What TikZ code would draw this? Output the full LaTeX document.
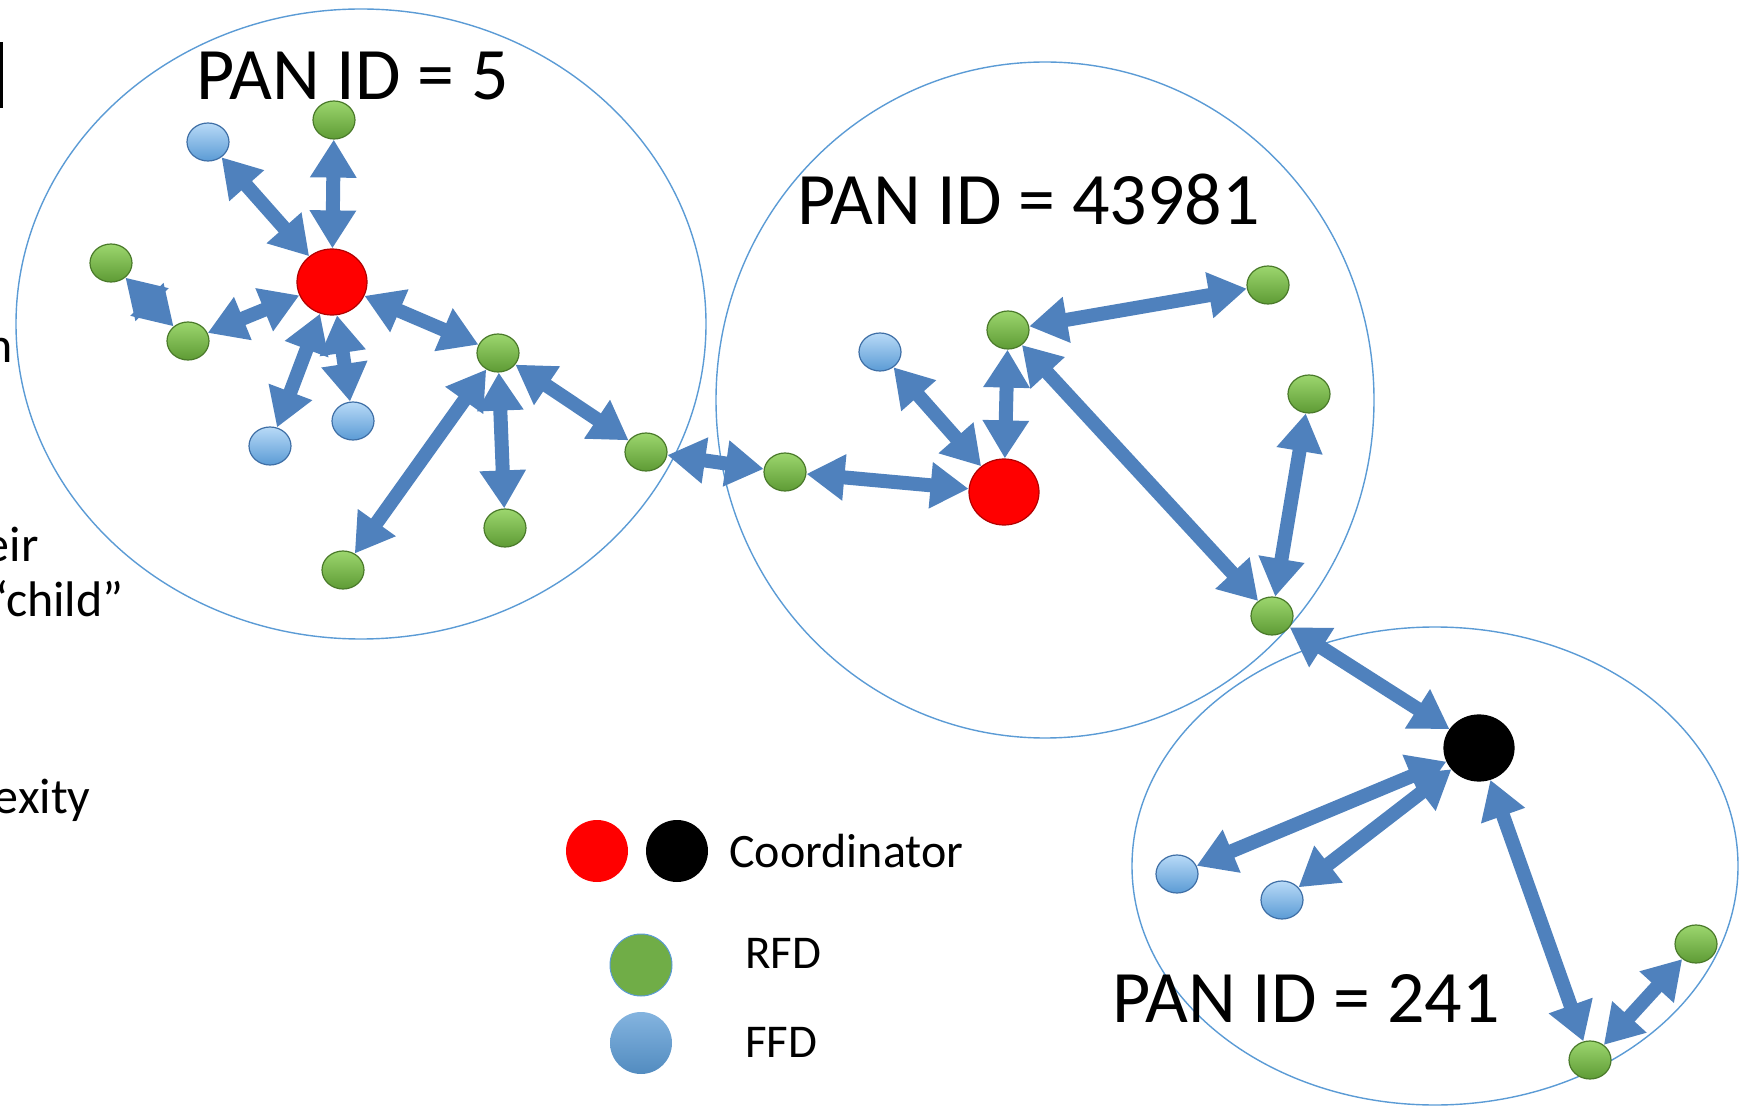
\documentclass[tikz,border=0pt]{standalone}
\usepackage{fontspec}
\setmainfont{Carlito}
\usepackage{tikz}
\usetikzlibrary{arrows.meta, shapes.geometric}
\definecolor{linkblue}{HTML}{4F81BD}
\definecolor{panline}{HTML}{5B9BD5}
\definecolor{rfdtop}{HTML}{9CD66E}
\definecolor{rfdbot}{HTML}{5E9B35}
\definecolor{rfdedge}{HTML}{4A7A2A}
\definecolor{ffdtop}{HTML}{B8DAF7}
\definecolor{ffdbot}{HTML}{5B9BD5}
\definecolor{ffdedge}{HTML}{3F6FA6}
\definecolor{keygreen}{HTML}{70AD47}

\begin{document}
\begin{tikzpicture}[x=0.5pt, y=-0.5pt,
  rfd/.style={ellipse, inner sep=0pt, minimum width=21pt, minimum height=19pt, draw=rfdedge, line width=0.6pt, top color=rfdtop, bottom color=rfdbot},
  ffd/.style={ellipse, inner sep=0pt, minimum width=21pt, minimum height=19pt, draw=ffdedge, line width=0.6pt, top color=ffdtop, bottom color=ffdbot},
  coord/.style={ellipse, inner sep=0pt, minimum width=35pt, minimum height=33pt, draw=#1!70!black, line width=0.6pt, fill=#1},
  link/.style={draw=linkblue, line width=7pt, {Triangle[length=19pt,width=22pt]}-{Triangle[length=19pt,width=22pt]}},
  pan/.style={draw=panline, line width=0.7pt},
  panid/.style={anchor=base west, inner sep=0pt, font=\fontsize{37}{44}\selectfont},
  keydot/.style={circle, inner sep=0pt, minimum size=31pt},
  keytext/.style={anchor=base west, inner sep=0pt, font=\fontsize{#1}{28}\selectfont},
  slidetext/.style={anchor=base east, inner sep=0pt, font=\fontsize{25}{30}\selectfont}
]
  \useasboundingbox (0,0) rectangle (1740,1106);
  \clip (0,0) rectangle (1740,1106);

  \node[slidetext] (t1) at (13,363) {n};
  \node[slidetext] (t2) at (39,562) {eir};
  \node[slidetext] (t3) at (124,617) {“child”};
  \node[slidetext] (t4) at (91,813) {exity};
  \fill (0,42) rectangle (3,108);

  \draw[pan] (361,324) ellipse [x radius=345, y radius=315];
  \draw[pan] (1045,400) ellipse [x radius=329, y radius=338];
  \draw[pan] (1435,866) ellipse [x radius=303, y radius=239];

  \node[panid] (p1) at (196,100) {PAN ID = 5};
  \node[panid] (p2) at (797,225) {PAN ID = 43981};
  \node[panid] (p3) at (1112,1022) {PAN ID = 241};

  \node[coord=red] (c1) at (332,282) {};
  \node[coord=red] (c2) at (1004,492) {};
  \node[coord=black] (c3) at (1479,748) {};

  \node[rfd] (r1) at (334,120) {};
  \node[rfd] (r2) at (111,263) {};
  \node[rfd] (r3) at (188,341) {};
  \node[rfd] (r4) at (498,353) {};
  \node[rfd] (r5) at (646,452) {};
  \node[rfd] (r6) at (505,528) {};
  \node[rfd] (r7) at (343,570) {};
  \node[rfd] (r8) at (785,472) {};
  \node[rfd] (r9) at (1008,330) {};
  \node[rfd] (r10) at (1268,285) {};
  \node[rfd] (r11) at (1309,394) {};
  \node[rfd] (r12) at (1272,616) {};
  \node[rfd] (r13) at (1696,944) {};
  \node[rfd] (r14) at (1590,1060) {};

  \node[ffd] (f1) at (208,142) {};
  \node[ffd] (f2) at (270,446) {};
  \node[ffd] (f3) at (353,421) {};
  \node[ffd] (f4) at (880,352) {};
  \node[ffd] (f5) at (1177,874) {};
  \node[ffd] (f6) at (1282,900) {};

  \draw[link] (c1) -- (r1);
  \draw[link] (c1) -- (f1);
  \draw[link] (c1) -- (r3);
  \draw[link] (r2) -- (r3);
  \draw[link] (c1) -- (f2);
  \draw[link] (c1) -- (f3);
  \draw[link] (c1) -- (r4);
  \draw[link] (r4) -- (r5);
  \draw[link] (r4) -- (r6);
  \draw[link] (r4) -- (r7);
  \draw[link] (r5) -- (r8);
  \draw[link] (r8) -- (c2);
  \draw[link] (c2) -- (f4);
  \draw[link] (c2) -- (r9);
  \draw[link] (r9) -- (r10);
  \draw[link] (r9) -- (r12);
  \draw[link] (r11) -- (r12);
  \draw[link] (r12) -- (c3);
  \draw[link] (c3) -- (f5);
  \draw[link] (c3) -- (f6);
  \draw[link] (c3) -- (r14);
  \draw[link] (r14) -- (r13);

  \node[keydot, fill=red] (k1) at (597,851) {};
  \node[keydot, fill=black] (k2) at (677,851) {};
  \node[keydot, fill=keygreen, draw=panline, line width=0.5pt] (k3) at (641,965) {};
  \node[keydot, top color=ffdbot!75!white, bottom color=ffdbot!90!black] (k4) at (641,1043) {};
  \node[keytext=24] (kt1) at (729,867) {Coordinator};
  \node[keytext=23.5] (kt2) at (745,968) {RFD};
  \node[keytext=23.5] (kt3) at (745,1057) {FFD};
\end{tikzpicture}
\end{document}
